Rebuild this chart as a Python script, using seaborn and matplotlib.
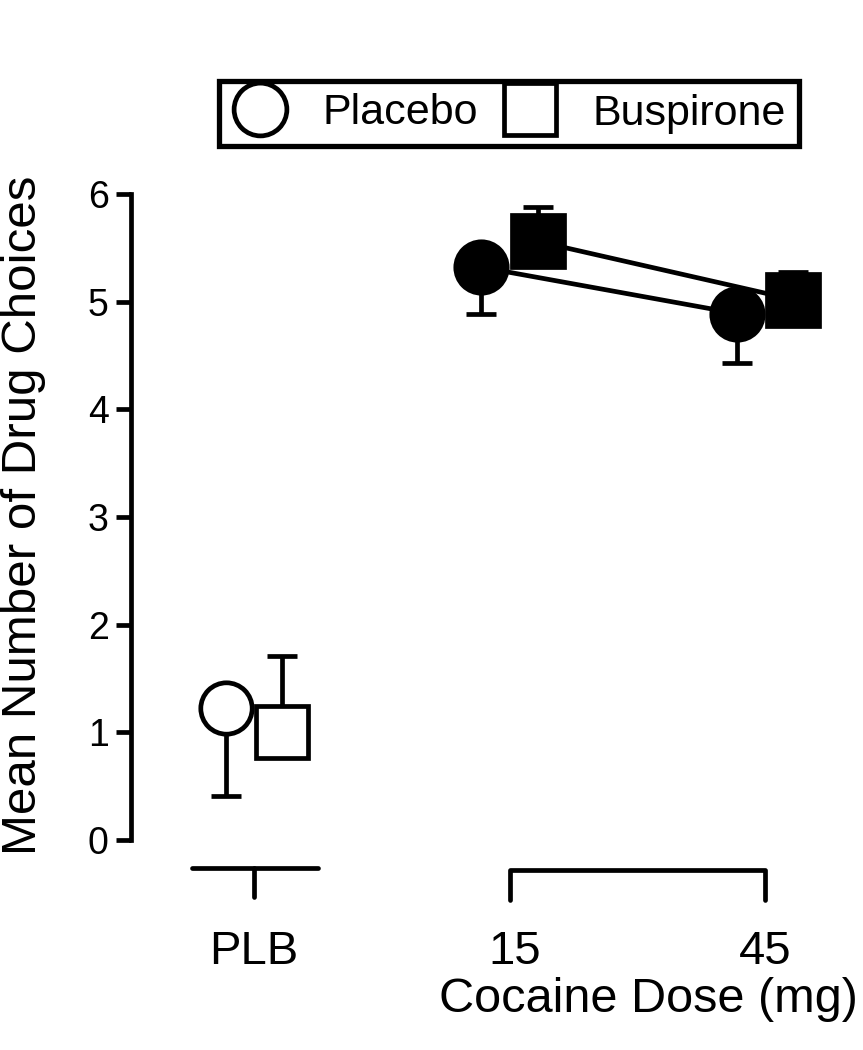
import numpy as np
import pandas as pd
import matplotlib
matplotlib.use("Agg")
import matplotlib.pyplot as plt
import matplotlib.transforms as mtransforms
from matplotlib.lines import Line2D
import seaborn as sns

# dados
doses = ["PLB", "15", "45"]
grupos = ["Placebo", "Buspirone"]
media_placebo = [1.23, 5.32, 4.89]
erro_placebo = [0.82, 0.43, 0.46]      # barra so para baixo
media_buspirone = [1.00, 5.56, 5.02]
erro_buspirone = [0.71, 0.32, 0.26]    # barra so para cima

sns.set_theme(style="white")
plt.rcParams['font.family'] = ['Liberation Sans', 'DejaVu Sans']
plt.rcParams['text.color'] = 'black'
plt.rcParams['ytick.color'] = 'black'

fig = plt.figure(figsize=(8.63, 10.5), dpi=100)
ax = fig.add_axes([0.1518, 0.2, 0.81, 0.6152])

pos = np.arange(len(doses))
desloc = 0.11
x_plac = pos - desloc
x_busp = pos + desloc

lw = 3.4
ms = 37

# barras de erro (atras dos marcadores)
ax.errorbar(x_plac, media_placebo, yerr=[erro_placebo, [0] * 3], fmt='none',
            ecolor='black', elinewidth=lw, capsize=11, capthick=lw, zorder=1)
ax.errorbar(x_busp, media_buspirone, yerr=[[0] * 3, erro_buspirone], fmt='none',
            ecolor='black', elinewidth=lw, capsize=11, capthick=lw, zorder=1)

# doses de cocaina: pontos cheios ligados por linha
df = pd.DataFrame({
    'x': list(x_plac[1:]) + list(x_busp[1:]),
    'media': media_placebo[1:] + media_buspirone[1:],
    'grupo': ['Placebo'] * 2 + ['Buspirone'] * 2,
})
sns.lineplot(data=df, x='x', y='media', hue='grupo', style='grupo',
             markers={'Placebo': 'o', 'Buspirone': 's'}, dashes=False,
             palette={'Placebo': 'black', 'Buspirone': 'black'},
             linewidth=lw, markersize=ms, markeredgecolor='black',
             markeredgewidth=lw, legend=False, ax=ax, zorder=3)

# placebo de cocaina: pontos abertos
ax.plot(x_plac[0], media_placebo[0], marker='o', ms=ms, mfc='white', mec='black',
        mew=lw, zorder=3)
ax.plot(x_busp[0], media_buspirone[0], marker='s', ms=ms, mfc='white', mec='black',
        mew=lw, zorder=3)

ax.set_ylim(0, 6)
ax.set_xlim(-0.481, 2.254)
ax.set_yticks(range(0, 7))
ax.tick_params(axis='y', length=11, width=lw, labelsize=27, pad=5, left=True,
               color='black', labelcolor='black')
ax.set_xticks([])
ax.set_xlabel('')
ax.set_ylabel('')
for s in ['top', 'right', 'bottom']:
    ax.spines[s].set_visible(False)
ax.spines['left'].set_linewidth(lw)
ax.spines['left'].set_color('black')

# eixo x em dois segmentos
tr = mtransforms.blended_transform_factory(ax.transData, ax.transAxes)
kw = dict(color='black', lw=lw, transform=tr, clip_on=False, solid_capstyle='round')
ax.plot([-0.243, 0.25], [-0.0433, -0.0433], **kw)
ax.plot([0, 0], [-0.0433, -0.088], **kw)
ax.plot([1, 1, 2, 2], [-0.093, -0.046, -0.046, -0.093], color='black', lw=lw,
        transform=tr, clip_on=False, solid_joinstyle='round', solid_capstyle='round')
for p, rotulo in zip([0, 1.02, 2], doses):
    ax.text(p, -0.173, rotulo, transform=tr, ha='center', va='center', fontsize=34)

fig.text(0.994, 1 - 1000 / 1050, 'Cocaine Dose (mg)', ha='right', va='center', fontsize=35)
fig.text(0.027, 1 - 515 / 1050, 'Mean Number of Drug Choices', rotation=90,
         ha='center', va='center', fontsize=35.5)

# legenda
handles = [
    Line2D([], [], marker='o', ls='none', ms=38, mfc='white', mec='black', mew=lw),
    Line2D([], [], marker='s', ls='none', ms=38, mfc='white', mec='black', mew=lw),
]
leg = fig.legend(handles, grupos, loc='center', bbox_to_anchor=(509 / 863, 1 - 113.5 / 1050),
                 ncol=2, fontsize=31, frameon=True, fancybox=False, edgecolor='black',
                 framealpha=1, handletextpad=0.8, columnspacing=0.55, borderpad=0.3,
                 borderaxespad=0, handlelength=1.3)
leg.get_frame().set_linewidth(3.8)

fig.savefig('out.png', dpi=100, facecolor='white')
